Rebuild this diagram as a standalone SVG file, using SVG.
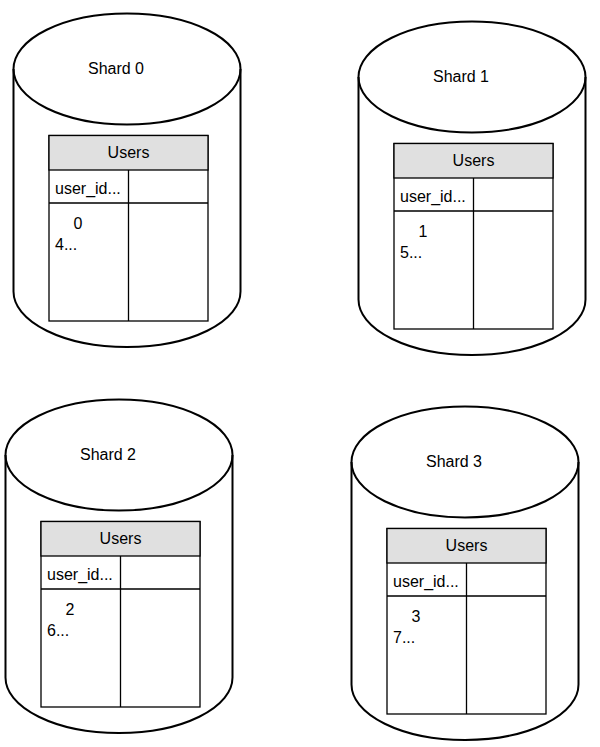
<svg xmlns="http://www.w3.org/2000/svg" width="600" height="747" viewBox="0 0 600 747">
<style>
.cyl{fill:#ffffff;stroke:#000000;stroke-width:2}
.tbl{fill:#ffffff;stroke:#000000;stroke-width:1.3}
.hdr{fill:#e0e0e0;stroke:#000000;stroke-width:1.3}
.ln{stroke:#000000;stroke-width:1.3;fill:none}
text{font-family:"Liberation Sans",Arial,sans-serif;font-size:16px;fill:#000000}
.c{text-anchor:middle}
</style>
<rect width="600" height="747" fill="#ffffff"/>
<g id="shard0">
<path class="cyl" d="M13.5,69 A113.5,55.5 0 0 1 240.5,69 V291.5 A113.5,55.5 0 0 1 13.5,291.5 Z"/>
<path class="ln" style="stroke-width:2" d="M13.5,69 A113.5,55.5 0 0 0 240.5,69"/>
<text class="c" x="116" y="73.5">Shard 0</text>
<rect class="tbl" x="49" y="135.5" width="159" height="185.5"/>
<rect class="hdr" x="49" y="135.5" width="159" height="34.5"/>
<path class="ln" d="M49,203 H208 M128.5,170 V321"/>
<text class="c" x="128.5" y="158">Users</text>
<text x="55" y="194">user_id...</text>
<text x="73.5" y="229">0</text>
<text x="55" y="250">4...</text>
</g>
<g id="shard1" transform="translate(345,8)">
<path class="cyl" d="M13.5,69 A113.5,55.5 0 0 1 240.5,69 V291.5 A113.5,55.5 0 0 1 13.5,291.5 Z"/>
<path class="ln" style="stroke-width:2" d="M13.5,69 A113.5,55.5 0 0 0 240.5,69"/>
<text class="c" x="116" y="73.5">Shard 1</text>
<rect class="tbl" x="49" y="135.5" width="159" height="185.5"/>
<rect class="hdr" x="49" y="135.5" width="159" height="34.5"/>
<path class="ln" d="M49,203 H208 M128.5,170 V321"/>
<text class="c" x="128.5" y="158">Users</text>
<text x="55" y="194">user_id...</text>
<text x="73.5" y="229">1</text>
<text x="55" y="250">5...</text>
</g>
<g id="shard2" transform="translate(-8,386)">
<path class="cyl" d="M13.5,69 A113.5,55.5 0 0 1 240.5,69 V291.5 A113.5,55.5 0 0 1 13.5,291.5 Z"/>
<path class="ln" style="stroke-width:2" d="M13.5,69 A113.5,55.5 0 0 0 240.5,69"/>
<text class="c" x="116" y="73.5">Shard 2</text>
<rect class="tbl" x="49" y="135.5" width="159" height="185.5"/>
<rect class="hdr" x="49" y="135.5" width="159" height="34.5"/>
<path class="ln" d="M49,203 H208 M128.5,170 V321"/>
<text class="c" x="128.5" y="158">Users</text>
<text x="55" y="194">user_id...</text>
<text x="73.5" y="229">2</text>
<text x="55" y="250">6...</text>
</g>
<g id="shard3" transform="translate(338,393)">
<path class="cyl" d="M13.5,69 A113.5,55.5 0 0 1 240.5,69 V291.5 A113.5,55.5 0 0 1 13.5,291.5 Z"/>
<path class="ln" style="stroke-width:2" d="M13.5,69 A113.5,55.5 0 0 0 240.5,69"/>
<text class="c" x="116" y="73.5">Shard 3</text>
<rect class="tbl" x="49" y="135.5" width="159" height="185.5"/>
<rect class="hdr" x="49" y="135.5" width="159" height="34.5"/>
<path class="ln" d="M49,203 H208 M128.5,170 V321"/>
<text class="c" x="128.5" y="158">Users</text>
<text x="55" y="194">user_id...</text>
<text x="73.5" y="229">3</text>
<text x="55" y="250">7...</text>
</g>
<g id="connectors"/>
</svg>
